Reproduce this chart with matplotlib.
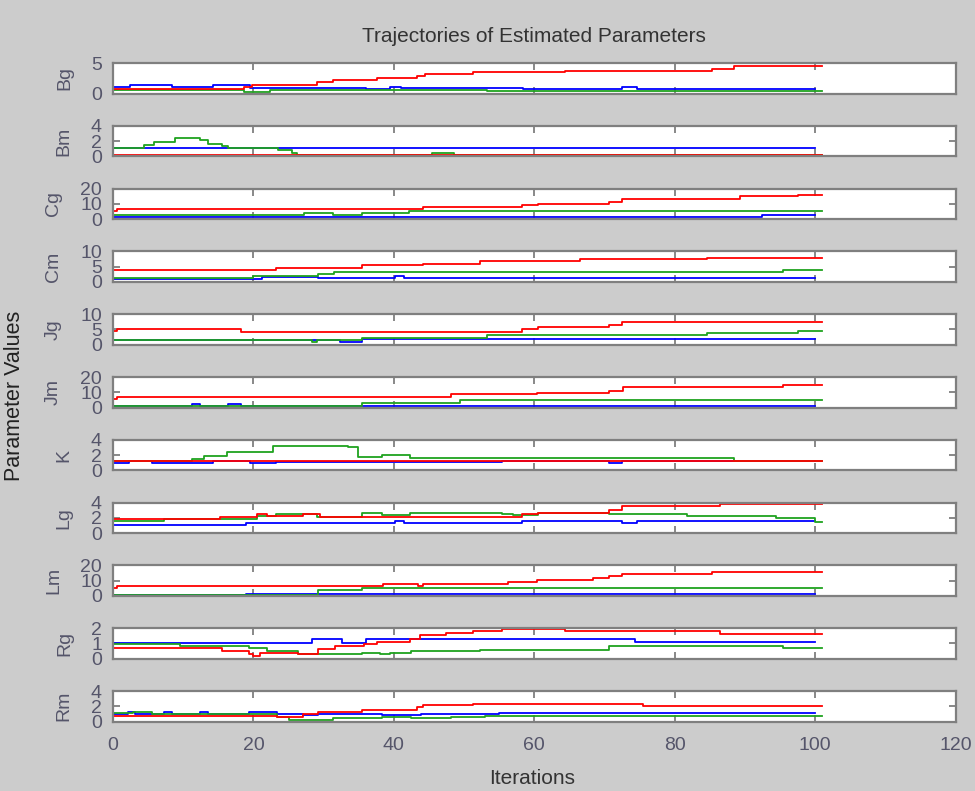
import matplotlib
matplotlib.use("Agg")
import matplotlib.pyplot as plt

# parameter names, y limits and y ticks
params = ['Bg', 'Bm', 'Cg', 'Cm', 'Jg', 'Jm', 'K', 'Lg', 'Lm', 'Rg', 'Rm']
ytops = [5, 4, 20, 10, 10, 20, 4, 4, 20, 2, 4]
yticks = [[0, 5], [0, 2, 4], [0, 10, 20], [0, 5, 10], [0, 5, 10], [0, 10, 20],
          [0, 2, 4], [0, 2, 4], [0, 10, 20], [0, 1, 2], [0, 2, 4]]
xticks = [0, 20, 40, 60, 80, 100, 120]

# estimated trajectories as (iteration, value) change points
END_RG = 101
END_B = 100

bg_blue = [(0, 1.0), (2.4, 1.4), (8.4, 1.0), (14.3, 1.4), (19.5, 0.95), (36.1, 0.8), (39.5, 1.1),
           (41, 0.95), (58.4, 0.67), (72.5, 1.0), (74.6, 0.67)]
bg_green = [(0, 0.5), (18.6, 0.27), (22.4, 0.6), (53.3, 0.35)]
bg_red = [(0, 0.67), (18.6, 1.0), (19.8, 1.33), (29.0, 1.83), (31.4, 2.2), (37.6, 2.6), (43.3, 2.9),
          (44.4, 3.2), (51.3, 3.45), (64.4, 3.77), (85.3, 4.05), (88.4, 4.43)]

bm_blue = [(0, 1.1)]
bm_green = [(0, 1.1), (4.4, 1.5), (5.8, 1.9), (8.8, 2.4), (12.4, 2.1), (13.6, 1.65), (15.5, 1.35),
            (16.4, 1.1), (23.5, 0.8), (25.5, 0.4), (26.2, 0.15), (45.4, 0.4), (48.5, 0.15)]
bm_red = [(0, 0.22)]

cg_blue = [(0, 1.2), (92.4, 3.0)]
cg_green = [(0, 2.6), (27.2, 3.9), (31.4, 2.6), (35.4, 3.9), (42.2, 5.3)]
cg_red = [(0, 5.3), (0.6, 6.5), (44.2, 7.7), (58.2, 9.0), (60.6, 10.2), (70.6, 11.4), (72.5, 13.5),
          (89.3, 14.9), (97.6, 16.1)]

cm_blue = [(0, 1.0), (21.2, 1.7), (29.2, 1.15), (40.2, 1.8), (41.5, 1.15)]
cm_green = [(0, 1.2), (20, 1.9), (29.2, 2.5), (31.5, 3.4), (95.5, 4.0)]
cm_red = [(0, 3.96), (23.2, 4.7), (35.4, 5.4), (44.2, 6.0), (52.3, 6.8), (66.5, 7.5), (84.6, 7.9)]

jg_blue = [(0, 1.4), (32.3, 0.9), (35.4, 1.8)]
jg_green = [(0, 1.58), (28.3, 1.0), (29, 1.58), (35.4, 2.3), (53.2, 3.15), (84.6, 3.7), (97.6, 4.4)]
jg_red = [(0, 4.4), (0.6, 5.05), (18.3, 4.3), (58.2, 5.05), (60.6, 5.8), (70.6, 6.5), (72.5, 7.6)]

jm_blue = [(0, 0.8), (11.2, 2.0), (12.4, 0.8), (16.4, 2.0), (18.3, 0.8), (19.5, 1.3)]
jm_green = [(0, 1.1), (35.4, 2.9), (49.4, 4.8)]
jm_red = [(0, 5.3), (0.6, 7.1), (48.2, 8.7), (60.4, 9.8), (70.6, 11.1), (72.7, 13.5), (95.5, 14.9)]

k_blue = [(0, 0.95), (2.3, 1.2), (5.6, 0.95), (14.3, 1.2), (19.5, 0.95), (23.2, 1.1), (55.4, 1.2),
          (70.6, 1.0), (72.5, 1.2)]
k_green = [(0, 1.2), (11.3, 1.52), (12.9, 1.9), (16.2, 2.44), (22.8, 3.25), (33.5, 3.0), (34.9, 1.8),
           (38.3, 2.0), (42.3, 1.56), (88.4, 1.2)]
k_red = [(0, 1.22)]

lg_blue = [(0, 1.1), (19.0, 1.33), (40.2, 1.55), (41.5, 1.33), (58.2, 1.64), (72.5, 1.33), (74.6, 1.64)]
lg_green = [(0, 1.55), (7.2, 1.87), (20.5, 2.2), (23.2, 2.44), (29, 2.13), (35.4, 2.67), (38.3, 2.4),
            (42.3, 2.67), (55.4, 2.55), (57, 2.4), (60.6, 2.7), (70.6, 2.45), (80.3, 2.55), (81.7, 2.2),
            (94.5, 1.95), (100, 1.5)]
lg_red = [(0, 1.87), (15.2, 2.13), (20.5, 2.44), (21.9, 2.2), (27.1, 2.44), (29.5, 2.13), (58.2, 2.44),
          (60.6, 2.7), (70.6, 3.0), (72.5, 3.55), (86.5, 3.77)]

lm_blue = [(0, 0.6), (19.0, 1.2)]
lm_green = [(0, 0.6), (29.2, 3.8), (35.4, 5.1)]
lm_red = [(0, 5.1), (0.6, 6.4), (38.4, 7.6), (43.5, 6.6), (44.2, 7.6), (56.3, 9.3), (60.4, 10.6),
          (68.4, 11.7), (70.6, 13.1), (72.5, 14.2), (85.3, 15.5)]

rg_blue = [(0, 1.05), (28.3, 1.28), (32.6, 1.05), (36.1, 1.28), (74.4, 1.08)]
rg_green = [(0, 0.97), (9.5, 0.85), (19.3, 0.69), (21.9, 0.5), (26.4, 0.28), (35.4, 0.39), (38.1, 0.3),
            (39.5, 0.39), (42.5, 0.5), (52.3, 0.6), (70.6, 0.81), (95.5, 0.67)]
rg_red = [(0, 0.67), (15.5, 0.5), (19.3, 0.28), (20, 0.15), (21, 0.39), (26.4, 0.3), (29.2, 0.62),
          (31.6, 0.81), (35.7, 0.97), (37.6, 1.12), (42.3, 1.31), (43.7, 1.54), (47.5, 1.66),
          (51.3, 1.81), (55.4, 1.95), (64.4, 1.81), (86.5, 1.63)]

rm_blue = [(0, 0.92), (2.2, 1.27), (3.1, 0.92), (7.2, 1.2), (8.4, 0.92), (12.4, 1.2), (13.6, 0.92),
           (19.3, 1.27), (23.3, 0.92), (27.1, 0.85), (29.2, 1.0), (38.3, 0.85), (43.9, 0.95), (55, 1.05)]
rm_green = [(0, 1.05), (2.9, 1.27), (5.5, 0.92), (23.3, 0.6), (25, 0.2), (31.4, 0.42), (38.3, 0.63),
            (42.5, 0.42), (48.2, 0.63), (53, 0.76)]
rm_red = [(0, 0.76), (23.3, 0.6), (27.1, 0.92), (29.2, 1.27), (35.4, 1.56), (43.3, 1.9), (44.2, 2.1),
          (51.3, 2.35), (75.5, 2.0)]

series = [
    (bg_blue, bg_green, bg_red), (bm_blue, bm_green, bm_red), (cg_blue, cg_green, cg_red),
    (cm_blue, cm_green, cm_red), (jg_blue, jg_green, jg_red), (jm_blue, jm_green, jm_red),
    (k_blue, k_green, k_red), (lg_blue, lg_green, lg_red), (lm_blue, lm_green, lm_red),
    (rg_blue, rg_green, rg_red), (rm_blue, rm_green, rm_red),
]

plt.rcParams['font.family'] = ['Liberation Sans', 'DejaVu Sans']
W, H = 975, 791
fig = plt.figure(figsize=(W / 100, H / 100), dpi=100, facecolor='#cccccc')

edge = '#7f7f7f'
txt = '#55556a'
left_px, right_px = 113, 955.5
top0, step, height = 63, 62.8, 30.5

for i, name in enumerate(params):
    top = top0 + i * step
    ax = fig.add_axes([left_px / W, 1 - (top + height) / H, (right_px - left_px) / W, height / H])
    blue, green, red = series[i]
    for pts, col, end in [(blue, '#0000ff', END_B), (green, '#1fa31f', END_RG), (red, '#ff0000', END_RG)]:
        xs = [p[0] for p in pts] + [end]
        ys = [p[1] for p in pts] + [pts[-1][1]]
        ax.plot(xs, ys, color=col, lw=1.3, drawstyle='steps-post')
    ax.set_xlim(0, 120)
    ax.set_ylim(0, ytops[i])
    ax.set_xticks(xticks)
    ax.set_yticks(yticks[i])
    ax.tick_params(direction='in', top=True, right=True, length=5, width=1.3,
                   color=edge, labelcolor=txt, labelsize=14, pad=8)
    ax.tick_params(axis='x', pad=11)
    if i < len(params) - 1:
        ax.set_xticklabels([])
    for s in ax.spines.values():
        s.set_color(edge)
        s.set_linewidth(1.6)
    ax.set_ylabel(name, fontsize=14, color=txt, labelpad=13)

fig.text(534 / W, 1 - 37 / H, 'Trajectories of Estimated Parameters', ha='center', va='center',
         fontsize=15, color='#333333')
fig.text(532 / W, 1 - 778 / H, 'Iterations', ha='center', va='center', fontsize=15, color='#333333')
fig.text(15 / W, 1 - 396 / H, 'Parameter Values', ha='center', va='center', rotation=90,
         fontsize=15.5, color='#222222')

fig.savefig('out.png', dpi=100, facecolor=fig.get_facecolor())
